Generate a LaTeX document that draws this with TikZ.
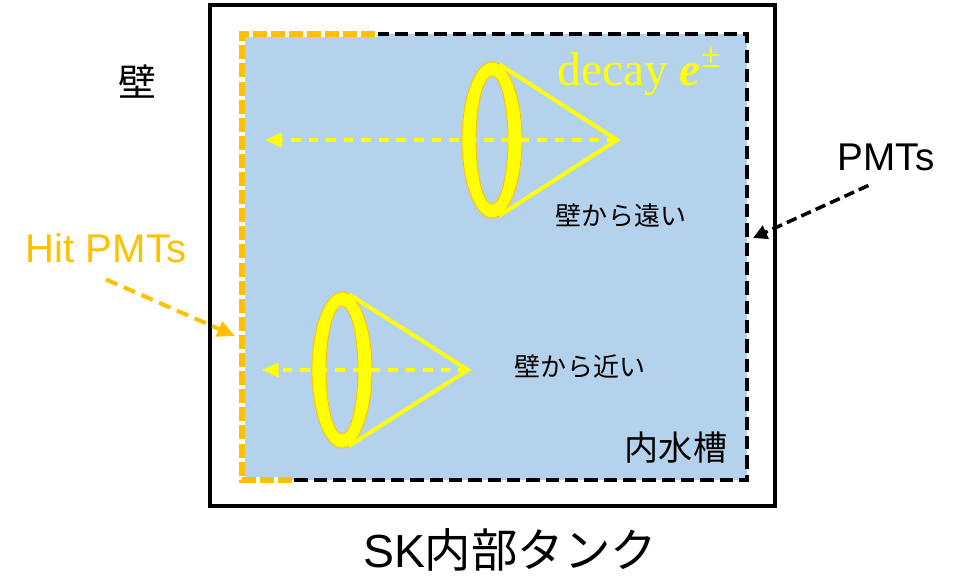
\documentclass[tikz,border=0pt]{standalone}
\usepackage{fontspec}
\setmainfont{Liberation Sans}
\newfontfamily\jpfont{Noto Sans CJK JP}
\newfontfamily\timesfont{Liberation Serif}
\usetikzlibrary{calc}
\usetikzlibrary{arrows.meta}

\definecolor{tankblue}{RGB}{180,210,235}
\definecolor{hitorange}{RGB}{255,192,0}
\definecolor{ringyellow}{RGB}{255,255,0}

\newcommand{\txtsize}[1]{\fontsize{#1}{#1}\selectfont}

\begin{document}
\begin{tikzpicture}[
  pmtline/.style={black,line width=2.6pt,dash pattern=on 7.5pt off 3.5pt},
  hitline/.style={hitorange,line width=3pt,dash pattern=on 8pt off 2.3pt},
  hitarrow/.style={hitorange,line width=2.3pt,dash pattern=on 7pt off 4pt,-{Triangle[length=10pt,width=9pt]}},
  pmtarrow/.style={black,line width=2pt,dash pattern=on 6pt off 3pt,-{Triangle[length=8pt,width=8pt]}},
  track/.style={ringyellow,line width=1.8pt,dash pattern=on 5.5pt off 4.5pt,-{Triangle[length=9.5pt,width=8pt]}},
  coneline/.style={ringyellow,line width=2.2pt},
  ring/.style={fill=ringyellow,draw=hitorange,line width=0.5pt,even odd rule},
]

\useasboundingbox (0,0) rectangle (19.26,11.7);

% outer wall and inner detector
\coordinate (W1) at (4.2,1.58);
\coordinate (W2) at (15.5,11.6);
\coordinate (T1) at (4.84,2.1);
\coordinate (T2) at (14.94,11.02);
\coordinate (H1) at (5.84,2.1);
\coordinate (H2) at (7.56,11.02);

\draw[line width=2.8pt] (W1) rectangle (W2);
\fill[tankblue] (T1) rectangle (T2);
\draw[pmtline] (T1) rectangle (T2);

% hit PMTs along the near wall
\draw[white,line width=3pt] (H1) -- (T1) -- (T1 |- T2) -- (H2);
\draw[hitline] (H1) -- (T1) -- (T1 |- T2) -- (H2);

% cherenkov rings
\coordinate (far-ring) at (9.84,8.9);
\coordinate (far-apex) at (12.34,8.9);
\coordinate (far-tip) at (5.3,8.9);
\coordinate (near-ring) at (6.84,4.3);
\coordinate (near-apex) at (9.36,4.3);
\coordinate (near-tip) at (5.24,4.3);

\foreach \c in {far,near} {
  \path[ring] (\c-ring) ellipse [x radius=0.6,y radius=1.56]
              (\c-ring) ellipse [x radius=0.32,y radius=1.28];
  \draw[coneline] ($(\c-ring)+(0.144,1.514)$) -- (\c-apex) -- ($(\c-ring)+(0.144,-1.514)$);
  \draw[track] (\c-apex) -- (\c-tip);
}

% labels
\node (wall) at (2.74,10.06) {\jpfont\txtsize{21.6}壁};
\node (hit) at (2.12,6.74) [hitorange] {\txtsize{22.8}Hit PMTs};
\node (pmts) at (17.72,8.56) {\txtsize{22}PMTs};
\node (far) at (12.42,7.38) {\jpfont\txtsize{14.8}壁から遠い};
\node (near) at (11.6,4.36) {\jpfont\txtsize{14.8}壁から近い};
\node (tank) at (13.52,2.74) {\jpfont\txtsize{19.4}内水槽};
\node (title) at (10.2,0.7) {\txtsize{26.4}SK\jpfont 内部タンク};
\node (decay) at (11.14,9.98) [anchor=base west,inner sep=0pt,ringyellow]
  {\timesfont\txtsize{27}decay \textbf{\textit{e}}\raisebox{0.4em}{\txtsize{21}±}};

% pointers
\coordinate (hit-end) at (4.7,4.98);
\coordinate (pmt-end) at (15.06,6.94);
\draw[hitarrow] ([yshift=-6pt]hit.south) -- (hit-end);
\draw[pmtarrow] ([xshift=-10pt,yshift=-5pt]pmts.south) -- (pmt-end);

\end{tikzpicture}
\end{document}
